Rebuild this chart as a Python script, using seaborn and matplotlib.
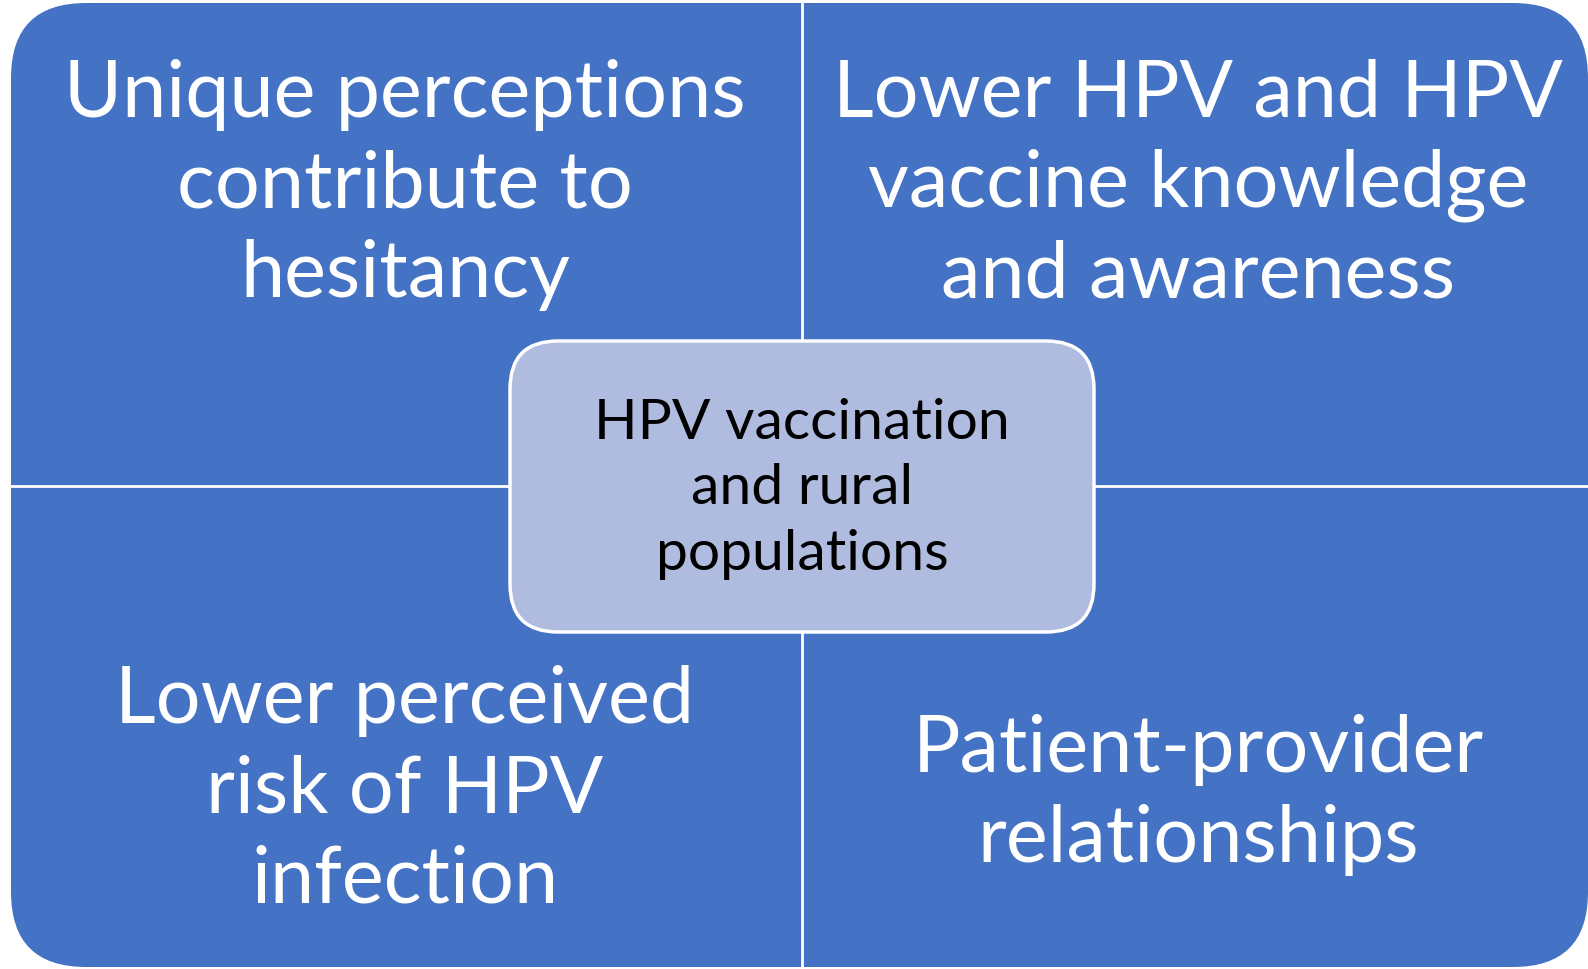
import matplotlib.pyplot as plt
import seaborn as sns
from matplotlib.patches import FancyBboxPatch

sns.set_theme(style="white")
plt.rcParams['font.family'] = ['Lato', 'DejaVu Sans']

# quadrant texts, clockwise from top-left
quadrants = ["Unique perceptions\ncontribute to\nhesitancy",
             "Lower HPV and HPV\nvaccine knowledge\nand awareness",
             "Patient-provider\nrelationships",
             "Lower perceived\nrisk of HPV\ninfection"]
quad_pos = [(405, 185), (1198, 185), (1198, 795), (405, 791)]
center_text = "HPV vaccination\nand rural\npopulations"

blue = "#4472C4"
light = "#AFBBDF"

fig = plt.figure(figsize=(15.88, 9.70), dpi=100)
ax = fig.add_axes([0, 0, 1, 1])
ax.set_xlim(0, 1588)
ax.set_ylim(970, 0)
ax.axis("off")

# outer rounded block
ax.add_patch(FancyBboxPatch((11, 4), 1577, 964, boxstyle="round,pad=0,rounding_size=75",
                            fc=blue, ec="none", zorder=1))
# white dividers
ax.plot([802, 802], [4, 968], color="white", lw=2, zorder=2)
ax.plot([11, 1588], [487, 487], color="white", lw=2, zorder=2)

for txt, (x, y) in zip(quadrants, quad_pos):
    ax.text(x, y, txt, ha="center", va="center", color="white", fontsize=57,
            linespacing=1.31, zorder=3)

# center box
ax.add_patch(FancyBboxPatch((510, 342), 584, 291, boxstyle="round,pad=0,rounding_size=48",
                            fc=light, ec="white", lw=2.5, zorder=4))
ax.text(802, 489, center_text, ha="center", va="center", color="black", fontsize=41,
        linespacing=1.36, zorder=5)

fig.savefig("out.png", dpi=100)
